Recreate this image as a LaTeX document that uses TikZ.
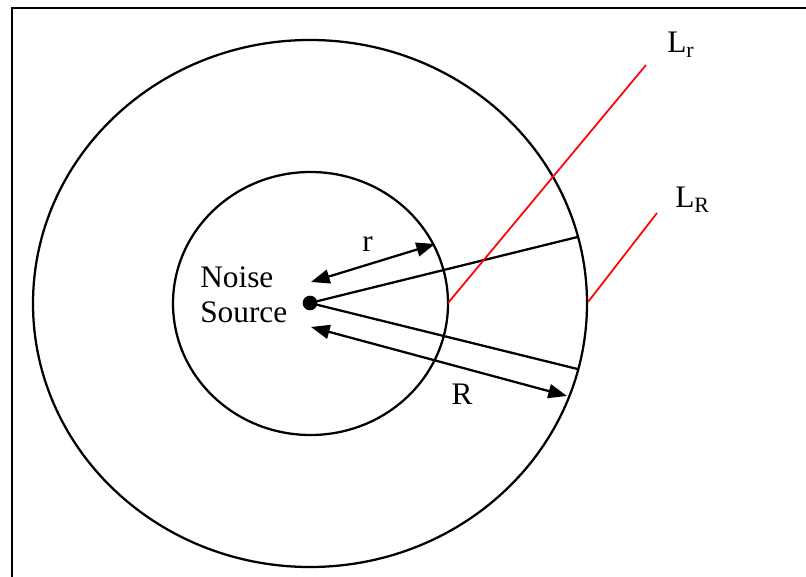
\documentclass[tikz,border=0pt]{standalone}
\usepackage{fontspec}
\setmainfont{Liberation Serif}
\usepackage{tikz}
\usetikzlibrary{arrows.meta, positioning}
\definecolor{cRed}{RGB}{255,0,0}
\tikzset{
  ring/.style={draw=black, line width=1.7pt},
  radline/.style={draw=black, line width=1.7pt},
  dimarrow/.style={{Triangle[length=14pt,width=10.5pt]}-{Triangle[length=14pt,width=10.5pt]},
                   line width=1.7pt},
  redline/.style={draw=cRed, line width=1.3pt},
  lbl/.style={font=\fontsize{23.5}{26.5}\selectfont, inner sep=0pt},
  srcdot/.style={circle, fill=black, inner sep=0pt, minimum size=11pt}
}
\begin{document}
\begin{tikzpicture}[x=0.75pt, y=-0.75pt]
  \useasboundingbox (0,0) rectangle (806,577);

  % Frame
  \draw[line width=2pt] (12,620) |- (850,8);

  % Rings
  \draw[ring] (310,303.5) ellipse [x radius=277, y radius=263.5];
  \draw[ring] (310.5,303.5) ellipse [x radius=137.5, y radius=131.5];

  % Source and radial lines
  \node[srcdot] (src) at (310,303) {};
  \coordinate (outA) at (577.5,237);
  \coordinate (outB) at (577.5,369);
  \draw[radline] (src.center) -- (outA);
  \draw[radline] (src.center) -- (outB);

  % Radii
  \coordinate (rA) at (311,282);
  \coordinate (rB) at (435,244);
  \coordinate (RA) at (311,327);
  \coordinate (RB) at (567,396);
  \draw[dimarrow] (rA) -- (rB);
  \draw[dimarrow] (RA) -- (RB);

  % Level lines
  \coordinate (lrA) at (448,303);
  \coordinate (lrB) at (646,65);
  \coordinate (lRA) at (588,302);
  \coordinate (lRB) at (657,213);
  \draw[redline] (lrA) -- (lrB);
  \draw[redline] (lRA) -- (lRB);

  % Labels
  \node[lbl, anchor=north west, align=left] (noise) at (200,266.5) {Noise\\Source};
  \node[lbl, anchor=base] (rlab) at (367.5,252) {r};
  \node[lbl, anchor=base] (Rlab) at (462,404) {R};
  \node[lbl, anchor=base west] (Lr) at (667,53) {L\textsubscript{r}};
  \node[lbl, anchor=base west] (LR) at (675,208) {L\textsubscript{R}};
\end{tikzpicture}
\end{document}
